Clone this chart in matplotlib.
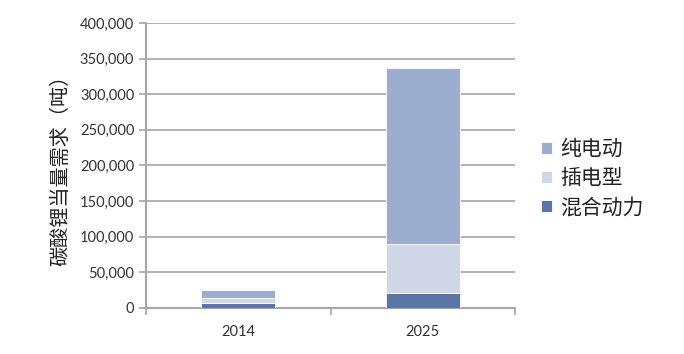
import numpy as np
import matplotlib.pyplot as plt
from matplotlib.ticker import FuncFormatter

plt.rcParams["font.family"] = ["Lato", "Noto Sans CJK SC", "DejaVu Sans"]

years = ["2014", "2025"]
hybrid = [7000, 20500]
plugin = [7500, 70000]
bev = [11000, 247000]

series = [
    ("混合动力", hybrid, "#5B74A8"),
    ("插电型", plugin, "#D0D8E8"),
    ("纯电动", bev, "#9CADCE"),
]

fig = plt.figure(figsize=(6.84, 3.54), dpi=100)
ax = fig.add_axes([0.2135, 0.130, 0.5395, 0.805])

x = np.arange(len(years))
bottom = np.zeros(len(years))
handles = []
for name, vals, color in series:
    b = ax.bar(x, vals, width=0.4, bottom=bottom, color=color,
               edgecolor="white", linewidth=0.6, label=name, zorder=3)
    handles.append(b)
    bottom += np.array(vals)

ax.set_xlim(-0.5, 1.5)
ax.set_ylim(0, 400000)
ax.set_yticks(np.arange(0, 400001, 50000))
ax.yaxis.set_major_formatter(FuncFormatter(lambda v, p: f"{int(v):,}"))
ax.grid(axis="y", color="#A6A6A6", linewidth=1.2, zorder=0)

ax.set_xticks([-0.5, 0.5, 1.5])
ax.set_xticklabels([])
ax.set_xticks(x, minor=True)
ax.set_xticklabels(years, minor=True)
ax.tick_params(axis="x", which="major", length=5, color="#A6A6A6", width=1.2)
ax.tick_params(axis="x", which="minor", length=0, pad=12,
               labelsize=10.5, labelcolor="#333333")
ax.tick_params(axis="y", length=5, color="#A6A6A6", width=1.2,
               labelsize=10.5, labelcolor="#333333")

for s in ["top", "right"]:
    ax.spines[s].set_visible(False)
for s in ["left", "bottom"]:
    ax.spines[s].set_color("#A6A6A6")
    ax.spines[s].set_linewidth(1.5)

ax.set_ylabel("碳酸锂当量需求（吨）", family=["Noto Sans CJK SC", "DejaVu Sans"],
              fontsize=14.5, color="#222222", labelpad=6)

ax.legend(handles[::-1], [s[0] for s in series][::-1],
          loc="center left", bbox_to_anchor=(1.02, 0.455), frameon=False,
          prop={"family": ["Noto Sans CJK SC", "DejaVu Sans"], "size": 15},
          handlelength=0.5, handleheight=0.5, handletextpad=0.4,
          labelspacing=0.35, labelcolor="#222222")

fig.savefig("out.png", dpi=100)
